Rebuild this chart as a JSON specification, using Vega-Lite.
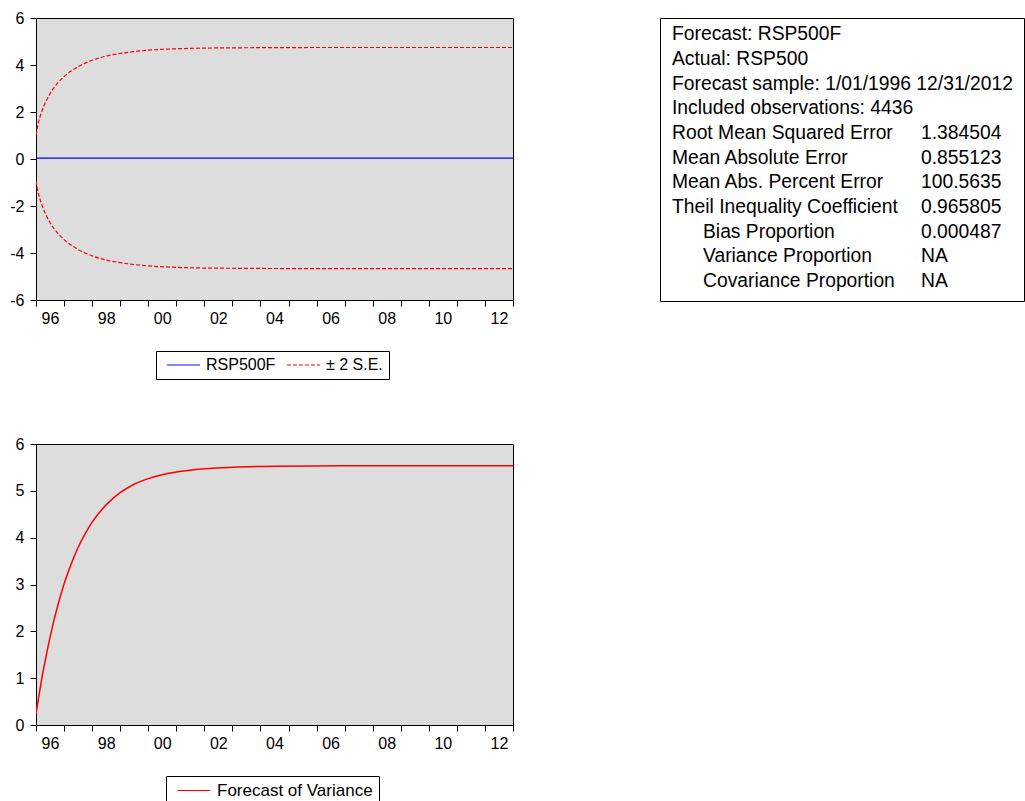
{
  "$schema": "https://vega.github.io/schema/vega-lite/v6.json",
  "padding": {"left": 9, "top": 9, "right": 0, "bottom": 0},
  "background": "white",
  "config": {
    "view": {"stroke": "black", "strokeWidth": 1, "fill": "#DDDDDD"},
    "font": "Liberation Sans",
    "axis": {"grid": false, "domainColor": "black", "tickColor": "black", "labelColor": "black", "labelFontSize": 16, "labelFont": "Liberation Sans", "tickSize": 6, "title": null},
    "axisY": {"labelPadding": 6},
    "axisX": {"labelPadding": 4, "labelOffset": 14, "labelOverlap": false, "labelFlush": false, "labelBound": false},
    "legend": {"title": null, "orient": "none", "direction": "horizontal", "strokeColor": "black", "fillColor": "white", "padding": 6, "symbolType": "M-1,0H7", "symbolSize": 68, "symbolStrokeWidth": 1, "symbolOffset": 1, "labelFontSize": 16, "labelFont": "Liberation Sans", "labelColor": "black", "labelOffset": 27, "columnPadding": 6, "cornerRadius": 0}
  },
  "datasets": {
    "fc": [
      {"year": 1996.00, "forecast": 0.04, "upper": 1.01, "lower": -0.93, "variance": 0.235},
      {"year": 1996.05, "forecast": 0.04, "upper": 1.35, "lower": -1.27, "variance": 0.43},
      {"year": 1996.10, "forecast": 0.04, "upper": 1.61, "lower": -1.53, "variance": 0.61},
      {"year": 1996.15, "forecast": 0.04, "upper": 1.82, "lower": -1.74, "variance": 0.79},
      {"year": 1996.20, "forecast": 0.04, "upper": 2.00, "lower": -1.92, "variance": 0.97},
      {"year": 1996.30, "forecast": 0.04, "upper": 2.31, "lower": -2.23, "variance": 1.29},
      {"year": 1996.40, "forecast": 0.04, "upper": 2.56, "lower": -2.48, "variance": 1.59},
      {"year": 1996.50, "forecast": 0.04, "upper": 2.78, "lower": -2.70, "variance": 1.87},
      {"year": 1996.65, "forecast": 0.04, "upper": 3.05, "lower": -2.97, "variance": 2.26},
      {"year": 1996.80, "forecast": 0.04, "upper": 3.27, "lower": -3.19, "variance": 2.60},
      {"year": 1997.00, "forecast": 0.04, "upper": 3.51, "lower": -3.43, "variance": 3.01},
      {"year": 1997.25, "forecast": 0.04, "upper": 3.74, "lower": -3.66, "variance": 3.43},
      {"year": 1997.50, "forecast": 0.04, "upper": 3.93, "lower": -3.85, "variance": 3.79},
      {"year": 1997.75, "forecast": 0.04, "upper": 4.08, "lower": -4.00, "variance": 4.08},
      {"year": 1998.00, "forecast": 0.04, "upper": 4.20, "lower": -4.12, "variance": 4.33},
      {"year": 1998.50, "forecast": 0.04, "upper": 4.38, "lower": -4.30, "variance": 4.70},
      {"year": 1999.00, "forecast": 0.04, "upper": 4.49, "lower": -4.41, "variance": 4.96},
      {"year": 1999.50, "forecast": 0.04, "upper": 4.57, "lower": -4.49, "variance": 5.14},
      {"year": 2000.00, "forecast": 0.04, "upper": 4.63, "lower": -4.55, "variance": 5.26},
      {"year": 2001.00, "forecast": 0.04, "upper": 4.69, "lower": -4.61, "variance": 5.40},
      {"year": 2002.00, "forecast": 0.04, "upper": 4.72, "lower": -4.64, "variance": 5.47},
      {"year": 2003.00, "forecast": 0.04, "upper": 4.73, "lower": -4.65, "variance": 5.505},
      {"year": 2004.50, "forecast": 0.04, "upper": 4.74, "lower": -4.66, "variance": 5.525},
      {"year": 2007.00, "forecast": 0.04, "upper": 4.745, "lower": -4.665, "variance": 5.533},
      {"year": 2013.00, "forecast": 0.04, "upper": 4.745, "lower": -4.665, "variance": 5.535}
    ],
    "map": [
      {"line": "forecast", "series": "RSP500F"},
      {"line": "upper", "series": "± 2 S.E."},
      {"line": "lower", "series": "± 2 S.E."}
    ],
    "stats": [
      {"row": 1, "level": "main", "label": "Forecast: RSP500F", "value": null},
      {"row": 2, "level": "main", "label": "Actual: RSP500", "value": null},
      {"row": 3, "level": "main", "label": "Forecast sample: 1/01/1996 12/31/2012", "value": null},
      {"row": 4, "level": "main", "label": "Included observations: 4436", "value": null},
      {"row": 5, "level": "main", "label": "Root Mean Squared Error", "value": "1.384504"},
      {"row": 6, "level": "main", "label": "Mean Absolute Error", "value": "0.855123"},
      {"row": 7, "level": "main", "label": "Mean Abs. Percent Error", "value": "100.5635"},
      {"row": 8, "level": "main", "label": "Theil Inequality Coefficient", "value": "0.965805"},
      {"row": 9, "level": "sub", "label": "Bias Proportion", "value": "0.000487"},
      {"row": 10, "level": "sub", "label": "Variance Proportion", "value": "NA"},
      {"row": 11, "level": "sub", "label": "Covariance Proportion", "value": "NA"}
    ]
  },
  "concat": [
    {
      "width": 477,
      "height": 282,
      "data": {"name": "fc"},
      "transform": [
        {"fold": ["forecast", "upper", "lower"], "as": ["line", "value"]},
        {"lookup": "line", "from": {"data": {"name": "map"}, "key": "line", "fields": ["series"]}}
      ],
      "mark": {"type": "line", "strokeWidth": 1.2, "interpolate": "monotone", "clip": true},
      "encoding": {
        "x": {"field": "year", "type": "quantitative", "scale": {"domain": [1996, 2013], "nice": false, "zero": false},
          "axis": {"values": [1996,1997,1998,1999,2000,2001,2002,2003,2004,2005,2006,2007,2008,2009,2010,2011,2012,2013],
            "labelExpr": "datum.value % 2 == 0 && datum.value < 2013 ? substring(toString(datum.value), 2, 4) : ''"}},
        "y": {"field": "value", "type": "quantitative", "scale": {"domain": [-6, 6], "nice": false, "zero": false},
          "axis": {"values": [-6, -4, -2, 0, 2, 4, 6], "labelExpr": "toString(datum.value)"}},
        "color": {"field": "series", "type": "nominal", "scale": {"domain": ["RSP500F", "± 2 S.E."], "range": ["#0000FF", "#FF0000"]},
          "legend": {"legendX": 120, "legendY": 333}},
        "strokeDash": {"field": "series", "type": "nominal", "scale": {"domain": ["RSP500F", "± 2 S.E."], "range": [[1, 0], [4, 2]]},
          "legend": {"legendX": 120, "legendY": 333}},
        "detail": {"field": "line", "type": "nominal"}
      }
    },
    {
      "width": 364,
      "height": 283,
      "view": {"fill": "white", "stroke": "black"},
      "data": {"name": "stats"},
      "encoding": {
        "y": {"field": "row", "type": "quantitative", "scale": {"domain": [0.335, 11.81], "reverse": true, "nice": false, "zero": false}, "axis": null}
      },
      "layer": [
        {
          "transform": [{"filter": "datum.level == 'main'"}],
          "mark": {"type": "text", "align": "left", "baseline": "middle", "fontSize": 19.3, "font": "Liberation Sans", "color": "black"},
          "encoding": {
            "x": {"datum": "label", "type": "nominal", "scale": {"type": "point", "domain": ["label", "value"], "range": [12, 261], "padding": 0}, "axis": null},
            "text": {"field": "label", "type": "nominal"}
          }
        },
        {
          "transform": [{"filter": "datum.level == 'sub'"}],
          "mark": {"type": "text", "align": "left", "baseline": "middle", "fontSize": 19.3, "font": "Liberation Sans", "color": "black", "dx": 31},
          "encoding": {
            "x": {"datum": "label", "type": "nominal", "scale": {"type": "point", "domain": ["label", "value"], "range": [12, 261], "padding": 0}, "axis": null},
            "text": {"field": "label", "type": "nominal"}
          }
        },
        {
          "transform": [{"filter": "datum.value != null"}],
          "mark": {"type": "text", "align": "left", "baseline": "middle", "fontSize": 19.3, "font": "Liberation Sans", "color": "black"},
          "encoding": {
            "x": {"datum": "value", "type": "nominal", "scale": {"type": "point", "domain": ["label", "value"], "range": [12, 261], "padding": 0}, "axis": null},
            "text": {"field": "value", "type": "nominal"}
          }
        }
      ]
    },
    {
      "width": 477,
      "height": 281,
      "data": {"name": "fc"},
      "mark": {"type": "line", "strokeWidth": 1.5, "interpolate": "monotone", "clip": true},
      "encoding": {
        "x": {"field": "year", "type": "quantitative", "scale": {"domain": [1996, 2013], "nice": false, "zero": false},
          "axis": {"values": [1996,1997,1998,1999,2000,2001,2002,2003,2004,2005,2006,2007,2008,2009,2010,2011,2012,2013],
            "labelExpr": "datum.value % 2 == 0 && datum.value < 2013 ? substring(toString(datum.value), 2, 4) : ''"}},
        "y": {"field": "variance", "type": "quantitative", "scale": {"domain": [0, 6], "nice": false},
          "axis": {"values": [0, 1, 2, 3, 4, 5, 6], "labelExpr": "toString(datum.value)"}},
        "color": {"datum": "Forecast of Variance", "type": "nominal", "scale": {"range": ["#FF0000"]},
          "legend": {"legendX": 130, "legendY": 332, "labelFontSize": 17, "symbolStrokeColor": "#FF0000"}}
      }
    }
  ],
  "columns": 2,
  "spacing": {"row": 143, "column": 147},
  "bounds": "flush",
  "resolve": {"scale": {"color": "independent", "strokeDash": "independent"}, "legend": {"color": "independent", "strokeDash": "independent"}}
}
